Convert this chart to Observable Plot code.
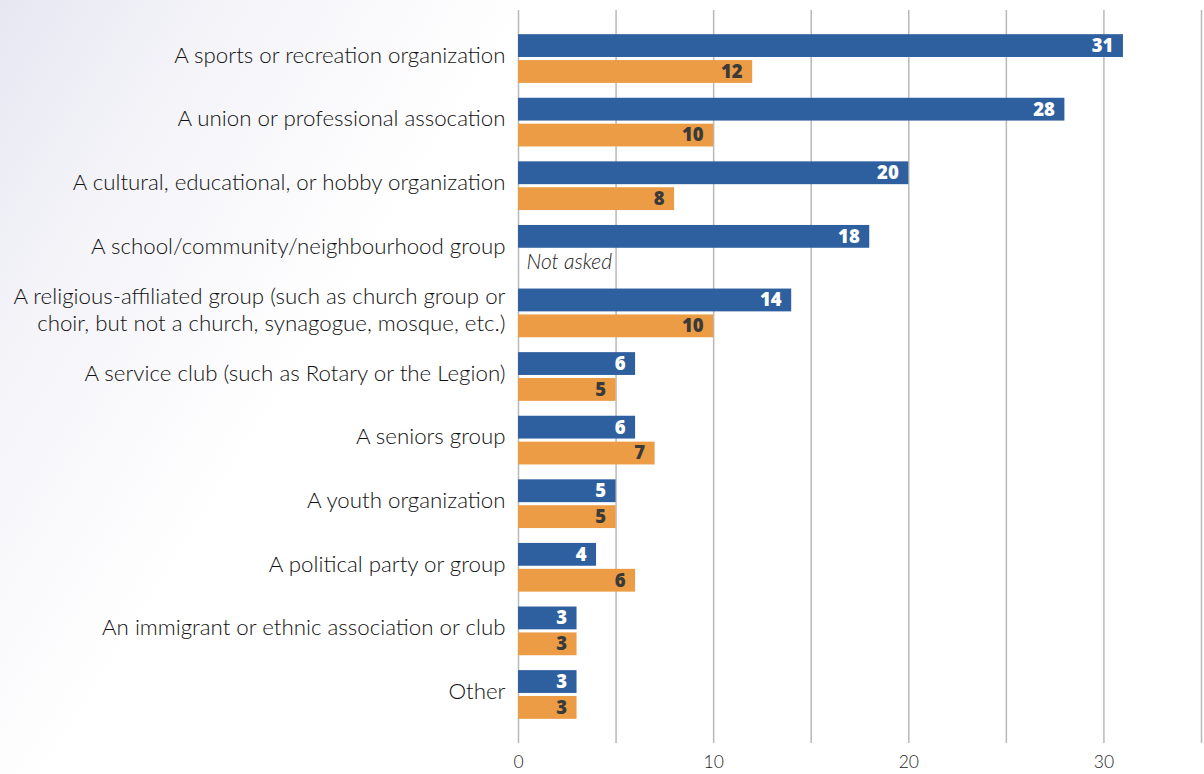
<!DOCTYPE html>
<html>
<head>
<meta charset="utf-8">
<script src="https://cdn.jsdelivr.net/npm/d3@7"></script>
<script src="https://cdn.jsdelivr.net/npm/@observablehq/plot@0.6"></script>
<style>
  html, body { margin: 0; padding: 0; }
  body {
    width: 1204px; height: 774px; overflow: hidden;
    background: linear-gradient(122deg, #e7e7f2 0%, #f4f4f9 14%, #ffffff 32%);
  }
  svg { background: transparent !important; display: block; }
</style>
</head>
<body>
<div id="chart"></div>
<script>
const categories = [
  "A sports or recreation organization",
  "A union or professional assocation",
  "A cultural, educational, or hobby organization",
  "A school/community/neighbourhood group",
  "A religious-affiliated group (such as church group or\nchoir, but not a church, synagogue, mosque, etc.)",
  "A service club (such as Rotary or the Legion)",
  "A seniors group",
  "A youth organization",
  "A political party or group",
  "An immigrant or ethnic association or club",
  "Other"
];
const seriesNames = ["Survey A", "Survey B"];
const blueValues = [31, 28, 20, 18, 14, 6, 6, 5, 4, 3, 3];
const orangeValues = [12, 10, 8, null, 10, 5, 7, 5, 6, 3, 3];
const xTickLabels = [0, 10, 20, 30];
const gridValues = [0, 5, 10, 15, 20, 25, 30, 35];
const notAskedText = "Not asked";

const blueData = categories.map((c, i) => ({category: c, series: seriesNames[0], value: blueValues[i]}));
const orangeData = categories.map((c, i) => ({category: c, series: seriesNames[1], value: orangeValues[i]}));
const orangeAsked = orangeData.filter(d => d.value != null);
const orangeMissing = orangeData.filter(d => d.value == null);

const BLUE = "#2e5f9f";
const ORANGE = "#eb9c44";
const INSET = 25.9;
const OFF = 12.95;

const chart = Plot.plot({
  width: 1204,
  height: 774,
  marginLeft: 518,
  marginRight: 3,
  marginTop: 10,
  marginBottom: 31,
  style: {fontFamily: "Lato, sans-serif", background: "transparent"},
  x: {domain: [0, 35], axis: null, label: null},
  y: {domain: categories, type: "band", paddingInner: 0.234, paddingOuter: 0.38, round: false, axis: null, label: null},
  marks: [
    Plot.gridX(gridValues, {stroke: "#b9b9b9", strokeOpacity: 1, strokeWidth: 1.5}),
    Plot.barX(blueData, {x: "value", y: "category", fill: BLUE, insetBottom: INSET}),
    Plot.barX(orangeAsked, {x: "value", y: "category", fill: ORANGE, insetTop: INSET}),
    Plot.text(blueData, {x: "value", y: "category", text: d => String(d.value), textAnchor: "end", dx: -10, dy: -OFF,
      fill: "white", fontSize: 18.5, fontWeight: 800, fontFamily: "'Open Sans', sans-serif"}),
    Plot.text(orangeAsked, {x: "value", y: "category", text: d => String(d.value), textAnchor: "end", dx: -10, dy: OFF,
      fill: "#3a3a3a", fontSize: 18.5, fontWeight: 800, fontFamily: "'Open Sans', sans-serif"}),
    Plot.text(orangeMissing, {x: 0, y: "category", text: () => notAskedText, textAnchor: "start", dx: 8, dy: OFF,
      fill: "#1e1e1e", fontSize: 21, fontStyle: "italic", fontWeight: 300}),
    Plot.axisY({tickSize: 0, tickPadding: 13, dy: -5, fontSize: 22.3, fontWeight: 300, lineHeight: 1.22, fill: "#111", textAnchor: "end", label: null}),
    Plot.axisX(xTickLabels, {tickSize: 0, tickPadding: 12, fontSize: 17.5, fontWeight: 300, fill: "#222", tickFormat: d => String(d), label: null})
  ]
});
document.getElementById("chart").appendChild(chart);
</script>
</body>
</html>
